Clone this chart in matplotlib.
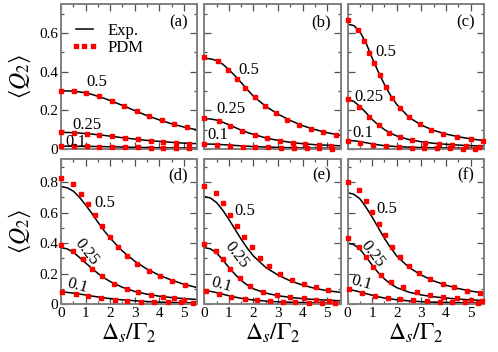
import matplotlib
matplotlib.use("Agg")
import matplotlib.pyplot as plt
from matplotlib.ticker import MultipleLocator, FuncFormatter

plt.rcParams["font.family"] = "serif"
plt.rcParams["font.serif"] = ["Liberation Serif", "DejaVu Serif"]
plt.rcParams["mathtext.fontset"] = "stix"

# x grid for the experimental (Exp.) curves
x_exp = [0, 0.25, 0.5, 0.75, 1, 1.25, 1.5, 1.75, 2, 2.5, 3, 3.5, 4, 4.5, 5, 5.55]

# ---- panel (a)
a05 = [0.300, 0.300, 0.298, 0.295, 0.290, 0.282, 0.272, 0.262, 0.250, 0.225, 0.198, 0.172, 0.150, 0.130, 0.113, 0.098]
a025 = [0.085, 0.085, 0.084, 0.082, 0.079, 0.077, 0.073, 0.070, 0.066, 0.058, 0.051, 0.044, 0.039, 0.034, 0.030, 0.027]
a01 = [0.014, 0.014, 0.014, 0.013, 0.013, 0.013, 0.012, 0.012, 0.011, 0.010, 0.008, 0.007, 0.006, 0.005, 0.005, 0.004]
a05_px = [0, 0.52, 1.03, 1.55, 2.06, 2.57, 3.08, 3.59, 4.1, 4.61, 5.12]
a05_py = [0.300, 0.298, 0.290, 0.273, 0.250, 0.224, 0.197, 0.171, 0.148, 0.128, 0.112]
a025_px = [0, 0.52, 1.04, 1.56, 2.08, 2.6, 3.12, 3.64, 4.16, 4.68, 5.2]
a025_py = [0.087, 0.084, 0.079, 0.072, 0.065, 0.057, 0.049, 0.042, 0.037, 0.032, 0.028]
a01_px = [0, 0.52, 1.04, 1.56, 2.08, 2.6, 3.12, 3.64, 4.16, 4.68, 5.2]
a01_py = [0.015, 0.014, 0.013, 0.012, 0.011, 0.010, 0.008, 0.007, 0.006, 0.005, 0.004]

# ---- panel (b)
b05 = [0.468, 0.466, 0.457, 0.438, 0.410, 0.378, 0.343, 0.307, 0.272, 0.220, 0.180, 0.147, 0.120, 0.100, 0.084, 0.070]
b025 = [0.156, 0.155, 0.149, 0.138, 0.125, 0.111, 0.097, 0.085, 0.075, 0.057, 0.044, 0.034, 0.027, 0.022, 0.019, 0.016]
b01 = [0.025, 0.025, 0.024, 0.022, 0.020, 0.018, 0.016, 0.014, 0.012, 0.010, 0.008, 0.006, 0.005, 0.004, 0.004, 0.003]
b05_px = [0, 0.55, 0.96, 1.33, 1.67, 2.05, 2.47, 2.9, 3.36, 3.84, 4.34, 4.84, 5.34]
b05_py = [0.477, 0.455, 0.410, 0.360, 0.316, 0.268, 0.222, 0.184, 0.152, 0.124, 0.103, 0.086, 0.072]
b025_px = [0, 0.59, 1.05, 1.55, 2.05, 2.56, 3.08, 3.6, 4.1, 4.66, 5.14]
b025_py = [0.158, 0.143, 0.121, 0.094, 0.072, 0.055, 0.042, 0.031, 0.024, 0.018, 0.013]
b01_px = [0, 0.52, 1.04, 1.56, 2.08, 2.6, 3.12, 3.64, 4.16, 4.68, 5.2]
b01_py = [0.024, 0.020, 0.016, 0.012, 0.010, 0.008, 0.006, 0.005, 0.004, 0.003, 0.002]

# ---- panel (c)
c05 = [0.645, 0.638, 0.606, 0.548, 0.470, 0.398, 0.333, 0.276, 0.230, 0.163, 0.123, 0.096, 0.077, 0.063, 0.052, 0.043]
c025 = [0.256, 0.246, 0.220, 0.187, 0.152, 0.124, 0.100, 0.081, 0.067, 0.048, 0.037, 0.029, 0.024, 0.020, 0.017, 0.015]
c01 = [0.043, 0.042, 0.038, 0.032, 0.026, 0.021, 0.017, 0.014, 0.012, 0.009, 0.007, 0.006, 0.005, 0.004, 0.004, 0.003]
c05_px = [0.03, 0.44, 0.68, 0.86, 1.07, 1.30, 1.55, 1.82, 2.12, 2.49, 2.93, 3.4, 3.9, 4.45, 5.0, 5.5]
c05_py = [0.668, 0.617, 0.558, 0.498, 0.442, 0.381, 0.318, 0.261, 0.213, 0.165, 0.127, 0.100, 0.079, 0.063, 0.050, 0.041]
c025_px = [0, 0.48, 0.86, 1.26, 1.67, 2.12, 2.6, 3.15, 3.7, 4.25, 4.8, 5.35]
c025_py = [0.256, 0.218, 0.167, 0.124, 0.084, 0.063, 0.046, 0.033, 0.026, 0.021, 0.014, 0.012]
c01_px = [0, 0.52, 1.03, 1.56, 2.08, 2.6, 3.12, 3.64, 4.16, 4.68, 5.2]
c01_py = [0.043, 0.033, 0.021, 0.013, 0.009, 0.007, 0.006, 0.005, 0.004, 0.002, 0.002]

# ---- panel (d)
d05 = [0.770, 0.762, 0.740, 0.700, 0.650, 0.595, 0.537, 0.482, 0.432, 0.347, 0.281, 0.229, 0.189, 0.157, 0.130, 0.108]
d025 = [0.370, 0.362, 0.340, 0.306, 0.270, 0.235, 0.201, 0.172, 0.148, 0.110, 0.083, 0.065, 0.052, 0.043, 0.036, 0.030]
d01 = [0.080, 0.077, 0.072, 0.066, 0.060, 0.053, 0.047, 0.041, 0.036, 0.028, 0.022, 0.017, 0.013, 0.011, 0.009, 0.007]
d05_px = [0, 0.48, 0.82, 1.1, 1.4, 1.67, 1.99, 2.33, 2.7, 3.11, 3.56, 4.04, 4.52, 5.03]
d05_py = [0.828, 0.789, 0.723, 0.658, 0.582, 0.512, 0.440, 0.375, 0.316, 0.261, 0.218, 0.181, 0.150, 0.124]
d025_px = [0, 0.48, 0.89, 1.26, 1.67, 2.15, 2.67, 3.15, 3.66, 4.14, 4.58, 5.0]
d025_py = [0.386, 0.349, 0.294, 0.229, 0.181, 0.135, 0.102, 0.081, 0.059, 0.048, 0.037, 0.026]
d01_px = [0.04, 0.62, 1.08, 1.63, 2.18, 2.7, 3.25, 3.8, 4.34, 4.9, 5.37]
d01_py = [0.080, 0.065, 0.054, 0.037, 0.028, 0.022, 0.017, 0.015, 0.011, 0.011, 0.007]

# ---- panel (e)
e05 = [0.705, 0.695, 0.665, 0.615, 0.555, 0.490, 0.425, 0.366, 0.315, 0.240, 0.190, 0.152, 0.125, 0.103, 0.088, 0.077]
e025 = [0.370, 0.362, 0.335, 0.290, 0.240, 0.195, 0.155, 0.125, 0.100, 0.072, 0.055, 0.044, 0.036, 0.030, 0.026, 0.022]
e01 = [0.087, 0.084, 0.075, 0.065, 0.055, 0.046, 0.038, 0.032, 0.027, 0.020, 0.015, 0.012, 0.010, 0.008, 0.007, 0.006]
e05_px = [0, 0.48, 0.78, 1.05, 1.33, 1.6, 1.92, 2.26, 2.64, 3.08, 3.56, 4.04, 4.56, 5.04]
e05_py = [0.773, 0.725, 0.660, 0.584, 0.514, 0.438, 0.373, 0.303, 0.248, 0.200, 0.161, 0.131, 0.111, 0.092]
e025_px = [0, 0.48, 0.75, 1.05, 1.44, 1.85, 2.4, 2.95, 3.5, 4.04, 4.56, 5.07]
e025_py = [0.397, 0.349, 0.298, 0.229, 0.168, 0.118, 0.081, 0.059, 0.048, 0.037, 0.028, 0.022]
e01_px = [0.07, 0.59, 1.1, 1.64, 2.15, 2.67, 3.19, 3.7, 4.25, 4.79, 5.3]
e01_py = [0.083, 0.065, 0.048, 0.033, 0.026, 0.022, 0.015, 0.011, 0.009, 0.008, 0.006]

# ---- panel (f)
f05 = [0.730, 0.720, 0.690, 0.635, 0.570, 0.500, 0.430, 0.370, 0.315, 0.240, 0.190, 0.152, 0.124, 0.102, 0.086, 0.072]
f025 = [0.400, 0.390, 0.360, 0.310, 0.255, 0.205, 0.165, 0.132, 0.108, 0.078, 0.060, 0.048, 0.040, 0.033, 0.028, 0.024]
f01 = [0.094, 0.090, 0.080, 0.069, 0.058, 0.048, 0.040, 0.034, 0.029, 0.021, 0.016, 0.013, 0.011, 0.009, 0.008, 0.007]
f05_px = [0, 0.48, 0.75, 1.0, 1.26, 1.53, 1.81, 2.12, 2.49, 2.9, 3.36, 3.86, 4.34, 4.86, 5.4]
f05_py = [0.800, 0.747, 0.675, 0.603, 0.527, 0.451, 0.377, 0.309, 0.250, 0.203, 0.163, 0.131, 0.109, 0.087, 0.072]
f025_px = [0, 0.48, 0.75, 1.03, 1.37, 1.78, 2.26, 2.81, 3.36, 3.9, 4.45, 5.0, 5.48]
f025_py = [0.436, 0.377, 0.309, 0.244, 0.190, 0.146, 0.109, 0.081, 0.059, 0.044, 0.037, 0.028, 0.022]
f01_px = [0.07, 0.59, 1.1, 1.64, 2.15, 2.67, 3.22, 3.74, 4.25, 4.79, 5.32]
f01_py = [0.098, 0.076, 0.054, 0.037, 0.033, 0.026, 0.022, 0.015, 0.013, 0.011, 0.007]

curve_labels = ["0.5", "0.25", "0.1"]
panel_letters = ["(a)", "(b)", "(c)", "(d)", "(e)", "(f)"]

panels = [
    ([a05, a025, a01], [(a05_px, a05_py), (a025_px, a025_py), (a01_px, a01_py)]),
    ([b05, b025, b01], [(b05_px, b05_py), (b025_px, b025_py), (b01_px, b01_py)]),
    ([c05, c025, c01], [(c05_px, c05_py), (c025_px, c025_py), (c01_px, c01_py)]),
    ([d05, d025, d01], [(d05_px, d05_py), (d025_px, d025_py), (d01_px, d01_py)]),
    ([e05, e025, e01], [(e05_px, e05_py), (e025_px, e025_py), (e01_px, e01_py)]),
    ([f05, f025, f01], [(f05_px, f05_py), (f025_px, f025_py), (f01_px, f01_py)]),
]

# label positions (data coords) and rotations for the 0.5 / 0.25 / 0.1 tags
label_pos = [
    [(1.47, 0.345, 0), (1.07, 0.125, 0), (0.6, 0.036, 0)],
    [(1.8, 0.407, 0), (1.07, 0.206, 0), (0.57, 0.072, 0)],
    [(1.56, 0.50, 0), (0.86, 0.268, 0), (0.62, 0.082, 0)],
    [(1.8, 0.66, 0), (1.02, 0.34, -52), (0.66, 0.118, -15)],
    [(1.64, 0.61, 0), (1.31, 0.32, -52), (0.7, 0.124, -15)],
    [(1.6, 0.62, 0), (1.02, 0.33, -52), (0.57, 0.137, -15)],
]

spine_col = "#808080"
tick_col = "#505050"

fig, axes = plt.subplots(2, 3, figsize=(4.98, 3.52), dpi=100)
fig.subplots_adjust(left=0.1225, right=0.972, top=0.989, bottom=0.136,
                    wspace=0.05, hspace=0.07)

fmt = FuncFormatter(lambda v, p: "%g" % round(v, 2))

for i, ax in enumerate(axes.flat):
    row, col = divmod(i, 3)
    exps, pdms = panels[i]
    for ys in exps:
        ax.plot(x_exp, ys, color="black", lw=1.1, zorder=2)
    for px, py in pdms:
        ax.plot(px, py, ls="none", marker="s", ms=3.0, color="red",
                mec="red", zorder=3, clip_on=False)
    for (tx, ty, rot), txt in zip(label_pos[i], curve_labels):
        ax.text(tx, ty, txt, fontsize=12, rotation=rot, ha="center",
                va="center", zorder=4)
    ax.text(0.93, 0.875 if row == 0 else 0.885, panel_letters[i],
            transform=ax.transAxes, ha="right", va="center", fontsize=12)

    ax.set_xlim(0, 5.55)
    ax.set_ylim(0, 0.75 if row == 0 else 0.95)
    ax.xaxis.set_major_locator(MultipleLocator(1))
    ax.xaxis.set_minor_locator(MultipleLocator(0.5))
    ax.yaxis.set_major_locator(MultipleLocator(0.2))
    ax.yaxis.set_minor_locator(MultipleLocator(0.1))
    ax.xaxis.set_major_formatter(fmt)
    ax.yaxis.set_major_formatter(fmt)
    ax.tick_params(which="both", direction="in", top=True, right=True,
                   color=tick_col, labelsize=11, pad=2)
    ax.tick_params(which="major", length=5, width=0.9)
    ax.tick_params(which="minor", length=2.5, width=0.9)
    for s in ax.spines.values():
        s.set_color(spine_col)
        s.set_linewidth(1.4)

    if row == 0:
        ax.tick_params(labelbottom=False)
    else:
        ax.set_xlabel(r"$\Delta_s/\Gamma_2$", fontsize=17, labelpad=1)
    if col == 0:
        ax.set_ylabel(r"$\langle Q_2\rangle$", fontsize=17)
        ax.yaxis.set_label_coords(-0.205, 0.5)
    else:
        ax.tick_params(labelleft=False)

# legend in panel (a)
ax0 = axes[0, 0]
h1, = ax0.plot([], [], color="black", lw=1.1)
h2, = ax0.plot([], [], ls="none", marker="s", ms=3.0, color="red")
ax0.legend([h1, h2], ["Exp.", "PDM"], loc="upper left", frameon=False,
           fontsize=12, handlelength=1.6, handletextpad=0.6, numpoints=3,
           borderaxespad=0.2, labelspacing=0.1, bbox_to_anchor=(0.0, 0.94))

fig.savefig("out.png", dpi=100)
